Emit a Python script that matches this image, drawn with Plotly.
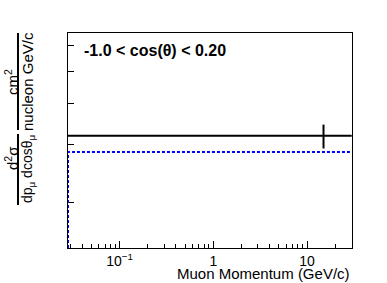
import plotly.graph_objects as go
import math

# ---- data ----
bin_edges = [0.0, 30.0]
data_value = [3.18]
data_err_up = [0.26]
data_err_dn = [0.27]
mc_value = [2.84]
x_major_ticks = [0.1, 1, 10]
x_major_labels = ["10<sup>−1</sup>", "1", "10"]
x_minor_ticks = [0.03, 0.04, 0.05, 0.06, 0.07, 0.08, 0.09,
                 0.2, 0.3, 0.4, 0.5, 0.6, 0.7, 0.8, 0.9,
                 2, 3, 4, 5, 6, 7, 8, 9, 20, 30]
y_ticks = [2, 3, 4, 5, 6]
x_range_vals = [0.0282, 30.2]
y_range_vals = [1.45, 6.53]
label_text = "-1.0 < cos(θ) < 0.20"

W, H = 387, 283
L, R, T, B = 68, 35, 33, 35
PW, PH = W - L - R, H - T - B

def px(x):
    return (x - L) / PW

def py(y):
    return (H - B - y) / PH

xmin, xmax = x_range_vals
ymin, ymax = y_range_vals

fig = go.Figure()

# MC histogram outline (blue dotted): left edge up, then across the bin
lo = max(bin_edges[0], xmin)
hi = bin_edges[1]
fig.add_trace(go.Scatter(
    x=[lo, lo, hi], y=[ymin, mc_value[0], mc_value[0]],
    mode="lines", line=dict(color="#0000ff", width=2, dash="3px,2px"),
    showlegend=False, hoverinfo="skip"))

# Data histogram: horizontal bin line
fig.add_trace(go.Scatter(
    x=[lo, hi], y=[data_value[0], data_value[0]],
    mode="lines", line=dict(color="black", width=2),
    showlegend=False, hoverinfo="skip"))

# Data error bar at bin centre
centre = 0.5 * (bin_edges[0] + bin_edges[1])
fig.add_trace(go.Scatter(
    x=[centre], y=[data_value[0]], mode="markers",
    marker=dict(size=1, color="black"),
    error_y=dict(type="data", symmetric=False, array=data_err_up,
                 arrayminus=data_err_dn, width=0, thickness=2, color="black"),
    showlegend=False, hoverinfo="skip"))

font_family = "Liberation Sans, Arial, Helvetica, sans-serif"

fig.update_layout(
    width=W, height=H,
    margin=dict(l=L, r=R, t=T, b=B),
    paper_bgcolor="white", plot_bgcolor="white",
    font=dict(family=font_family, size=14, color="black"),
    xaxis=dict(type="log", range=[math.log10(xmin), math.log10(xmax)],
               showline=True, linecolor="black", linewidth=1, mirror=True,
               showgrid=False, zeroline=False,
               tickmode="array", tickvals=x_major_ticks, ticktext=x_major_labels,
               ticks="inside", ticklen=7, tickwidth=1, tickcolor="black",
               ticklabelstandoff=0,
               tickfont=dict(size=14),
               minor=dict(tickmode="array", tickvals=x_minor_ticks,
                          ticks="inside", ticklen=4, tickwidth=1,
                          tickcolor="black", showgrid=False),
               layer="below traces"),
    yaxis=dict(type="log", range=[math.log10(ymin), math.log10(ymax)],
               showline=True, linecolor="black", linewidth=1, mirror=True,
               showgrid=False, zeroline=False,
               tickmode="array", tickvals=y_ticks,
               ticks="inside", ticklen=6, tickwidth=1, tickcolor="black",
               showticklabels=False, layer="below traces"),
)

ann = []
# region label
ann.append(dict(text="<b>" + label_text + "</b>", xref="paper", yref="paper",
                x=px(82), y=py(50), xanchor="left", yanchor="middle",
                showarrow=False, font=dict(size=16)))
# x title
ann.append(dict(text="Muon Momentum (GeV/c)", xref="paper", yref="paper",
                x=px(352), y=py(273), xanchor="right", yanchor="middle",
                showarrow=False, font=dict(size=15)))
# y title pieces (rotated)
ann.append(dict(text="cm<sup>2</sup>", xref="paper", yref="paper",
                x=px(11), y=py(82), xanchor="center", yanchor="middle",
                textangle=-90, showarrow=False, font=dict(size=15)))
ann.append(dict(text="nucleon GeV/c", xref="paper", yref="paper",
                x=px(27), y=py(82), xanchor="center", yanchor="middle",
                textangle=-90, showarrow=False, font=dict(size=15)))
ann.append(dict(text="d<sup>2</sup>σ", xref="paper", yref="paper",
                x=px(11), y=py(158), xanchor="center", yanchor="middle",
                textangle=-90, showarrow=False, font=dict(size=15)))
ann.append(dict(text="dp<sub>μ</sub> dcosθ<sub>μ</sub>", xref="paper", yref="paper",
                x=px(28), y=py(169), xanchor="center", yanchor="middle",
                textangle=-90, showarrow=False, font=dict(size=14)))
fig.update_layout(annotations=ann)

# fraction bars
fig.add_shape(type="line", xref="paper", yref="paper",
              x0=px(18), x1=px(18), y0=py(33), y1=py(130),
              line=dict(color="black", width=2))
fig.add_shape(type="line", xref="paper", yref="paper",
              x0=px(18), x1=px(18), y0=py(134), y1=py(205),
              line=dict(color="black", width=2))

fig.write_html("out.html",
               config={"displayModeBar": False},
               post_script="document.body.style.margin='0';document.body.style.padding='0';")
